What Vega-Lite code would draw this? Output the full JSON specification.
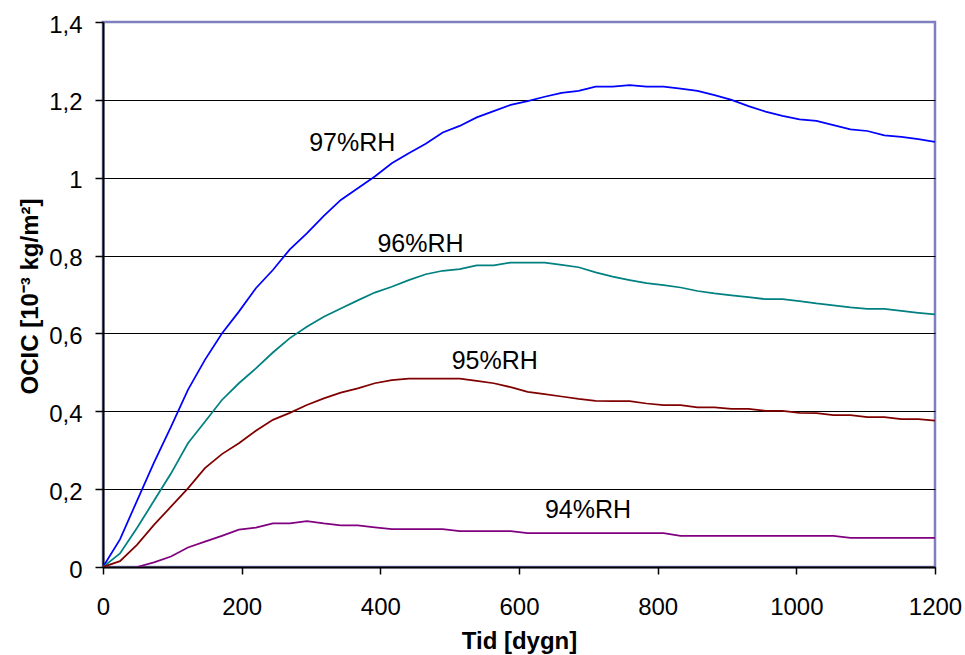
{
  "$schema": "https://vega.github.io/schema/vega-lite/v6.json",
  "autosize": "none",
  "width": 832,
  "height": 545,
  "padding": {"left": 103, "top": 22, "right": 30, "bottom": 88},
  "background": "white",
  "view": {"stroke": "#8080c0", "strokeWidth": 2.5},
  "config": {
    "font": "Liberation Sans"
  },
  "datasets": {
    "curves": [
      {"t":0,"s":"97%RH","v":0},{"t":24.5,"s":"97%RH","v":0.071},{"t":49,"s":"97%RH","v":0.17},{"t":73.5,"s":"97%RH","v":0.268},{"t":98,"s":"97%RH","v":0.36},{"t":122.5,"s":"97%RH","v":0.455},{"t":147,"s":"97%RH","v":0.532},{"t":171.5,"s":"97%RH","v":0.6},{"t":196,"s":"97%RH","v":0.656},{"t":220.5,"s":"97%RH","v":0.716},
      {"t":245,"s":"97%RH","v":0.763},{"t":269.5,"s":"97%RH","v":0.816},{"t":294,"s":"97%RH","v":0.857},{"t":318.5,"s":"97%RH","v":0.902},{"t":343,"s":"97%RH","v":0.943},{"t":367.5,"s":"97%RH","v":0.973},{"t":392,"s":"97%RH","v":1.003},{"t":416.5,"s":"97%RH","v":1.037},{"t":441,"s":"97%RH","v":1.063},{"t":465.5,"s":"97%RH","v":1.087},
      {"t":490,"s":"97%RH","v":1.116},{"t":514.5,"s":"97%RH","v":1.133},{"t":539,"s":"97%RH","v":1.155},{"t":563.5,"s":"97%RH","v":1.171},{"t":588,"s":"97%RH","v":1.187},{"t":612.5,"s":"97%RH","v":1.197},{"t":637,"s":"97%RH","v":1.208},{"t":661.5,"s":"97%RH","v":1.218},{"t":686,"s":"97%RH","v":1.223},{"t":710.5,"s":"97%RH","v":1.234},
      {"t":735,"s":"97%RH","v":1.234},{"t":759.5,"s":"97%RH","v":1.238},{"t":784,"s":"97%RH","v":1.234},{"t":808.5,"s":"97%RH","v":1.234},{"t":833,"s":"97%RH","v":1.229},{"t":857.5,"s":"97%RH","v":1.223},{"t":882,"s":"97%RH","v":1.212},{"t":906.5,"s":"97%RH","v":1.2},{"t":931,"s":"97%RH","v":1.184},{"t":955.5,"s":"97%RH","v":1.17},
      {"t":980,"s":"97%RH","v":1.159},{"t":1004.5,"s":"97%RH","v":1.15},{"t":1029,"s":"97%RH","v":1.146},{"t":1053.5,"s":"97%RH","v":1.135},{"t":1078,"s":"97%RH","v":1.124},{"t":1102.5,"s":"97%RH","v":1.12},{"t":1127,"s":"97%RH","v":1.109},{"t":1151.5,"s":"97%RH","v":1.105},{"t":1176,"s":"97%RH","v":1.099},{"t":1200,"s":"97%RH","v":1.092},

      {"t":0,"s":"96%RH","v":0},{"t":24.5,"s":"96%RH","v":0.035},{"t":49,"s":"96%RH","v":0.1},{"t":73.5,"s":"96%RH","v":0.17},{"t":98,"s":"96%RH","v":0.24},{"t":122.5,"s":"96%RH","v":0.318},{"t":147,"s":"96%RH","v":0.373},{"t":171.5,"s":"96%RH","v":0.429},{"t":196,"s":"96%RH","v":0.472},{"t":220.5,"s":"96%RH","v":0.51},
      {"t":245,"s":"96%RH","v":0.551},{"t":269.5,"s":"96%RH","v":0.588},{"t":294,"s":"96%RH","v":0.617},{"t":318.5,"s":"96%RH","v":0.643},{"t":343,"s":"96%RH","v":0.664},{"t":367.5,"s":"96%RH","v":0.685},{"t":392,"s":"96%RH","v":0.705},{"t":416.5,"s":"96%RH","v":0.72},{"t":441,"s":"96%RH","v":0.737},{"t":465.5,"s":"96%RH","v":0.752},
      {"t":490,"s":"96%RH","v":0.761},{"t":514.5,"s":"96%RH","v":0.765},{"t":539,"s":"96%RH","v":0.775},{"t":563.5,"s":"96%RH","v":0.775},{"t":588,"s":"96%RH","v":0.782},{"t":612.5,"s":"96%RH","v":0.782},{"t":637,"s":"96%RH","v":0.782},{"t":661.5,"s":"96%RH","v":0.776},{"t":686,"s":"96%RH","v":0.77},{"t":710.5,"s":"96%RH","v":0.757},
      {"t":735,"s":"96%RH","v":0.746},{"t":759.5,"s":"96%RH","v":0.737},{"t":784,"s":"96%RH","v":0.729},{"t":808.5,"s":"96%RH","v":0.724},{"t":833,"s":"96%RH","v":0.718},{"t":857.5,"s":"96%RH","v":0.709},{"t":882,"s":"96%RH","v":0.703},{"t":906.5,"s":"96%RH","v":0.698},{"t":931,"s":"96%RH","v":0.693},{"t":955.5,"s":"96%RH","v":0.688},
      {"t":980,"s":"96%RH","v":0.688},{"t":1004.5,"s":"96%RH","v":0.683},{"t":1029,"s":"96%RH","v":0.677},{"t":1053.5,"s":"96%RH","v":0.672},{"t":1078,"s":"96%RH","v":0.667},{"t":1102.5,"s":"96%RH","v":0.663},{"t":1127,"s":"96%RH","v":0.663},{"t":1151.5,"s":"96%RH","v":0.658},{"t":1176,"s":"96%RH","v":0.653},{"t":1200,"s":"96%RH","v":0.649},

      {"t":0,"s":"95%RH","v":0},{"t":24.5,"s":"95%RH","v":0.015},{"t":49,"s":"95%RH","v":0.057},{"t":73.5,"s":"95%RH","v":0.108},{"t":98,"s":"95%RH","v":0.155},{"t":122.5,"s":"95%RH","v":0.202},{"t":147,"s":"95%RH","v":0.254},{"t":171.5,"s":"95%RH","v":0.29},{"t":196,"s":"95%RH","v":0.318},{"t":220.5,"s":"95%RH","v":0.35},
      {"t":245,"s":"95%RH","v":0.378},{"t":269.5,"s":"95%RH","v":0.396},{"t":294,"s":"95%RH","v":0.416},{"t":318.5,"s":"95%RH","v":0.433},{"t":343,"s":"95%RH","v":0.448},{"t":367.5,"s":"95%RH","v":0.459},{"t":392,"s":"95%RH","v":0.472},{"t":416.5,"s":"95%RH","v":0.48},{"t":441,"s":"95%RH","v":0.484},{"t":465.5,"s":"95%RH","v":0.484},
      {"t":490,"s":"95%RH","v":0.484},{"t":514.5,"s":"95%RH","v":0.484},{"t":539,"s":"95%RH","v":0.478},{"t":563.5,"s":"95%RH","v":0.472},{"t":588,"s":"95%RH","v":0.462},{"t":612.5,"s":"95%RH","v":0.45},{"t":637,"s":"95%RH","v":0.444},{"t":661.5,"s":"95%RH","v":0.438},{"t":686,"s":"95%RH","v":0.432},{"t":710.5,"s":"95%RH","v":0.427},
      {"t":735,"s":"95%RH","v":0.426},{"t":759.5,"s":"95%RH","v":0.426},{"t":784,"s":"95%RH","v":0.42},{"t":808.5,"s":"95%RH","v":0.416},{"t":833,"s":"95%RH","v":0.416},{"t":857.5,"s":"95%RH","v":0.41},{"t":882,"s":"95%RH","v":0.41},{"t":906.5,"s":"95%RH","v":0.406},{"t":931,"s":"95%RH","v":0.406},{"t":955.5,"s":"95%RH","v":0.401},
      {"t":980,"s":"95%RH","v":0.401},{"t":1004.5,"s":"95%RH","v":0.396},{"t":1029,"s":"95%RH","v":0.395},{"t":1053.5,"s":"95%RH","v":0.39},{"t":1078,"s":"95%RH","v":0.39},{"t":1102.5,"s":"95%RH","v":0.385},{"t":1127,"s":"95%RH","v":0.385},{"t":1151.5,"s":"95%RH","v":0.38},{"t":1176,"s":"95%RH","v":0.38},{"t":1200,"s":"95%RH","v":0.376},

      {"t":49,"s":"94%RH","v":0},{"t":73.5,"s":"94%RH","v":0.012},{"t":98,"s":"94%RH","v":0.027},{"t":122.5,"s":"94%RH","v":0.05},{"t":147,"s":"94%RH","v":0.065},{"t":171.5,"s":"94%RH","v":0.08},{"t":196,"s":"94%RH","v":0.096},{"t":220.5,"s":"94%RH","v":0.101},
      {"t":245,"s":"94%RH","v":0.112},{"t":269.5,"s":"94%RH","v":0.112},{"t":294,"s":"94%RH","v":0.118},{"t":318.5,"s":"94%RH","v":0.112},{"t":343,"s":"94%RH","v":0.107},{"t":367.5,"s":"94%RH","v":0.107},{"t":392,"s":"94%RH","v":0.102},{"t":416.5,"s":"94%RH","v":0.097},{"t":441,"s":"94%RH","v":0.097},{"t":465.5,"s":"94%RH","v":0.097},
      {"t":490,"s":"94%RH","v":0.097},{"t":514.5,"s":"94%RH","v":0.092},{"t":539,"s":"94%RH","v":0.092},{"t":563.5,"s":"94%RH","v":0.092},{"t":588,"s":"94%RH","v":0.092},{"t":612.5,"s":"94%RH","v":0.087},{"t":637,"s":"94%RH","v":0.087},{"t":661.5,"s":"94%RH","v":0.087},{"t":686,"s":"94%RH","v":0.087},{"t":710.5,"s":"94%RH","v":0.087},
      {"t":735,"s":"94%RH","v":0.087},{"t":759.5,"s":"94%RH","v":0.087},{"t":784,"s":"94%RH","v":0.087},{"t":808.5,"s":"94%RH","v":0.087},{"t":833,"s":"94%RH","v":0.08},{"t":857.5,"s":"94%RH","v":0.08},{"t":882,"s":"94%RH","v":0.08},{"t":906.5,"s":"94%RH","v":0.08},{"t":931,"s":"94%RH","v":0.08},{"t":955.5,"s":"94%RH","v":0.08},
      {"t":980,"s":"94%RH","v":0.08},{"t":1004.5,"s":"94%RH","v":0.08},{"t":1029,"s":"94%RH","v":0.08},{"t":1053.5,"s":"94%RH","v":0.08},{"t":1078,"s":"94%RH","v":0.075},{"t":1102.5,"s":"94%RH","v":0.075},{"t":1127,"s":"94%RH","v":0.075},{"t":1151.5,"s":"94%RH","v":0.075},{"t":1176,"s":"94%RH","v":0.075},{"t":1200,"s":"94%RH","v":0.075}
    ],
    "labels": [
      {"t":359.5,"v":1.069,"s":"97%RH"},
      {"t":458,"v":0.81,"s":"96%RH"},
      {"t":565,"v":0.508,"s":"95%RH"},
      {"t":699.5,"v":0.125,"s":"94%RH"}
    ]
  },
  "layer": [
    {
      "data": {"name": "curves"},
      "mark": {"type": "line", "strokeWidth": 1.75, "clip": true},
      "encoding": {
        "x": {
          "field": "t", "type": "quantitative",
          "scale": {"domain": [0, 1200], "nice": false, "zero": false},
          "axis": {
            "values": [0, 200, 400, 600, 800, 1000, 1200],
            "format": "d",
            "grid": false,
            "domainColor": "black", "domainWidth": 2,
            "tickColor": "black", "tickSize": 7, "tickWidth": 1.5,
            "labelFont": "Liberation Sans", "labelFontSize": 24, "labelColor": "black",
            "labelBaseline": "alphabetic", "labelPadding": 40, "labelFlush": false,
            "title": "Tid [dygn]",
            "titleFont": "Liberation Sans", "titleFontSize": 24, "titleFontWeight": "bold", "titleColor": "black",
            "titleBaseline": "alphabetic", "titleAnchor": "middle", "titleX": 416, "titleY": 81
          }
        },
        "y": {
          "field": "v", "type": "quantitative",
          "scale": {"domain": [0, 1.4], "nice": false},
          "axis": {
            "values": [0, 0.2, 0.4, 0.6, 0.8, 1, 1.2, 1.4],
            "grid": true, "gridColor": "black", "gridWidth": 1.2,
            "gridOpacity": {"condition": {"test": "datum.value > 1.39", "value": 0}, "value": 1},
            "domainColor": "black", "domainWidth": 2,
            "tickColor": "black", "tickSize": 8, "tickWidth": 1.5,
            "labelFont": "Liberation Sans", "labelFontSize": 24, "labelColor": "black",
            "labelPadding": 13, "labelOffset": 3,
            "labelExpr": "replace(format(datum.value, '.1~f'), '.', ',')",
            "title": "OCIC [10⁻³ kg/m²]",
            "titleFont": "Liberation Sans", "titleFontSize": 24, "titleFontWeight": "bold", "titleColor": "black",
            "titleAngle": -90, "titleBaseline": "alphabetic", "titleAlign": "center",
            "titleX": -66, "titleY": 274
          }
        },
        "color": {
          "field": "s", "type": "nominal",
          "scale": {"domain": ["97%RH", "96%RH", "95%RH", "94%RH"], "range": ["#0000ff", "#008080", "#800000", "#800080"]},
          "legend": null
        }
      }
    },
    {
      "data": {"name": "labels"},
      "mark": {"type": "text", "font": "Liberation Sans", "fontSize": 25, "color": "black", "align": "center", "baseline": "alphabetic"},
      "encoding": {
        "x": {"field": "t", "type": "quantitative"},
        "y": {"field": "v", "type": "quantitative"},
        "text": {"field": "s"}
      }
    }
  ]
}
